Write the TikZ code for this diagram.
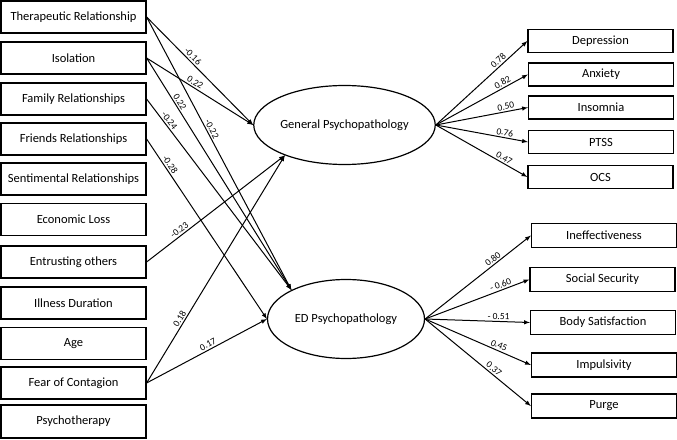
\documentclass[tikz,border=0pt]{standalone}
\usepackage{fontspec}
\setmainfont{Carlito}
\usetikzlibrary{shapes}
\usetikzlibrary{arrows}

\begin{document}
\begin{tikzpicture}[x=1pt,y=-1pt,
					box/.style={rectangle,draw,line width=1.2pt,minimum width=145pt,minimum height=32pt,inner sep=0pt,font=\fontsize{12.5}{14}\selectfont},
					ind/.style={rectangle,draw,line width=1.2pt,minimum width=145pt,minimum height=23pt,inner sep=0pt,font=\fontsize{12.5}{14}\selectfont},
					lv/.style={ellipse,draw,line width=1.2pt,minimum width=157pt,minimum height=79pt,inner sep=0pt,font=\fontsize{12.5}{14}\selectfont},
					reg/.style={-latex,line width=1pt},
					coef/.style={sloped,above,inner sep=1.5pt,font=\fontsize{9.5}{10}\selectfont}
					]
					\useasboundingbox (0,0) rectangle (677,439);
					\node[box] (ther) at (73.5,17) {Therapeutic Relationship};
					\node[box] (iso) at (73.5,58) {Isolation};
					\node[box] (fam) at (73.5,99) {Family Relationships};
					\node[box] (fri) at (73.5,139) {Friends Relationships};
					\node[box] (sent) at (73.5,179) {Sentimental Relationships};
					\node[box] (eco) at (73.5,219.5) {Economic Loss};
					\node[box] (entr) at (73.5,262) {Entrusting others};
					\node[box] (ill) at (73.5,303) {Illness Duration};
					\node[box] (age) at (73.5,343.5) {Age};
					\node[box] (fear) at (73.5,383) {Fear of Contagion};
					\node[box,minimum height=33pt] (psy) at (73.5,421.5) {Psychotherapy};
					
					\node[lv] (gen) at (344.5,125) {General Psychopathology};
					\node[lv] (ed) at (346,319) {ED Psychopathology};
					
					\node[ind] (dep) at (600.5,41) {Depression};
					\node[ind] (anx) at (601,74.5) {Anxiety};
					\node[ind] (ins) at (601,107.5) {Insomnia};
					\node[ind] (ptss) at (601,142) {PTSS};
					\node[ind] (ocs) at (600.5,177) {OCS};
					
					\node[ind,minimum height=24pt] (ineff) at (604,235.5) {Ineffectiveness};
					\node[ind,minimum height=24pt] (soc) at (602.5,279.5) {Social Security};
					\node[ind,minimum height=24pt] (body) at (603,322.5) {Body Satisfaction};
					\node[ind,minimum height=24pt] (imp) at (604,365) {Impulsivity};
					\node[ind,minimum height=24pt] (purge) at (604,406) {Purge};
					
					\draw[reg] (ther.east) -- node[coef,pos=0.4]{-0.16} (gen.west);
					\draw[reg] (iso.east) -- node[coef,pos=0.43]{0.22} (gen.west);
					\draw[reg] (ther.east) -- node[coef,pos=0.42]{-0.22} (ed.152);
					\draw[reg] (iso.east) -- node[coef,pos=0.2]{0.22} (ed.152);
					\draw[reg] (fam.east) -- node[coef,pos=0.13]{-0.24} (ed.152);
					\draw[reg] (fri.east) -- node[coef,pos=0.16]{-0.28} (ed.west);
					\draw[reg] (entr.east) -- node[coef,pos=0.26]{-0.23} (gen.207);
					\draw[reg] (fear.east) -- node[coef,pos=0.27]{0.18} (gen.207);
					\draw[reg] (fear.east) -- node[coef,pos=0.53]{0.17} (ed.west);
					
					\draw[reg] (gen.east) -- node[coef,pos=0.72]{0.78} (dep.west);
					\draw[reg] (gen.east) -- node[coef,pos=0.75]{0.82} (anx.west);
					\draw[reg] (gen.east) -- node[coef,pos=0.77]{0.50} (ins.west);
					\draw[reg] (gen.east) -- node[coef,pos=0.74]{0.76} (ptss.west);
					\draw[reg] (gen.east) -- node[coef,pos=0.72]{0.47} (ocs.west);
					
					\draw[reg] (ed.east) -- node[coef,pos=0.67]{0.80} (ineff.west);
					\draw[reg] (ed.east) -- node[coef,pos=0.74]{- 0.60} (soc.west);
					\draw[reg] (ed.east) -- node[coef,pos=0.7]{- 0.51} (body.west);
					\draw[reg] (ed.east) -- node[coef,pos=0.68]{0.45} (imp.west);
					\draw[reg] (ed.east) -- node[coef,pos=0.62]{0.37} (purge.west);
\end{tikzpicture}
\end{document}
